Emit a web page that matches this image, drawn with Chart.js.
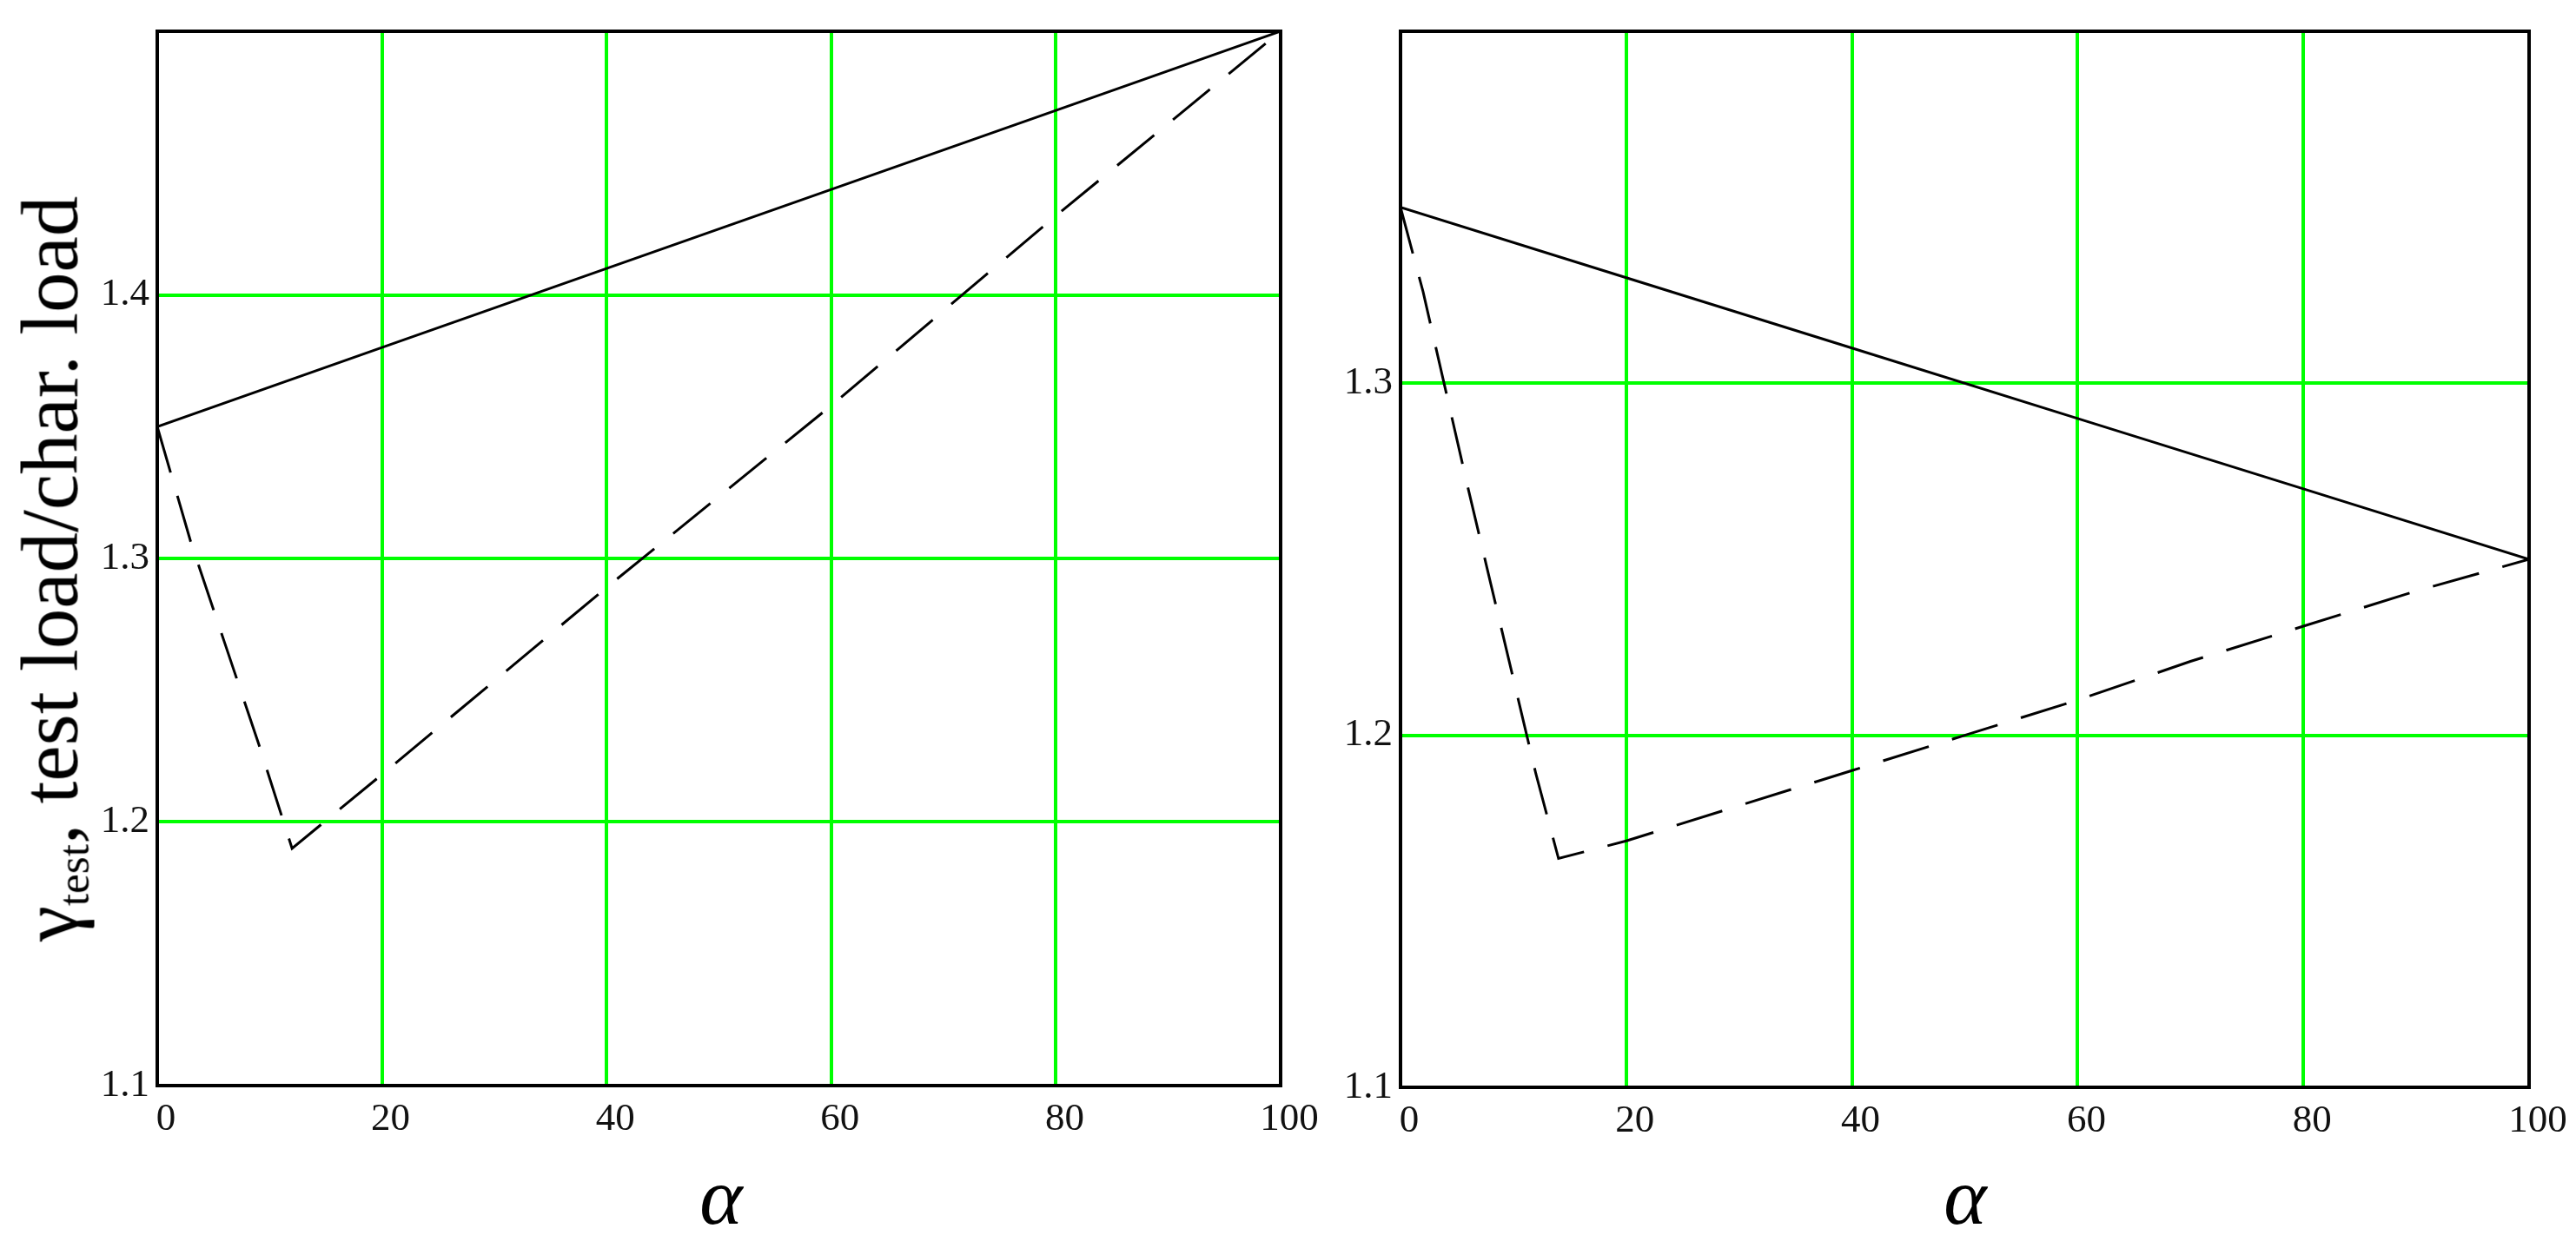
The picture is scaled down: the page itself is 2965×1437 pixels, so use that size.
<!DOCTYPE html>
<html>
<head>
<meta charset="utf-8">
<script src="https://cdn.jsdelivr.net/npm/chart.js@4.4.1/dist/chart.umd.min.js"></script>
<style>
  html, body { margin: 0; padding: 0; background: #fff; }
  body { width: 2965px; height: 1437px; position: relative; overflow: hidden; }
  canvas { position: absolute; top: 0; }
  #c1 { left: 0; }
  #c2 { left: 1480px; }
  .xt { position: absolute; top: 1330px; font: italic 94px "Liberation Serif", serif; transform: translateX(-50%); line-height: 1; }
  .yt { position: absolute; left: 60px; top: 655px; font: 93px "Liberation Serif", serif; white-space: nowrap; line-height: 1;
        transform: translate(-50%, -50%) rotate(-90deg); }
  .yt sub { font-size: 55%; vertical-align: -0.25em; }
</style>
</head>
<body>
<canvas id="c1" width="1560" height="1437"></canvas>
<canvas id="c2" width="1485" height="1437"></canvas>
<div class="xt" style="left: 830px;">α</div>
<div class="xt" style="left: 2262px;">α</div>
<div class="yt">γ<sub>test</sub>, test load/char. load</div>
<script>
// left panel
const leftSolidAlpha = [0, 20, 40, 60, 80, 100];
const leftSolidGamma = [1.35, 1.38, 1.41, 1.44, 1.47, 1.50];
const leftDashedAlpha = [0, 3, 6, 9, 12, 20, 40, 60, 80, 100];
const leftDashedGamma = [1.35, 1.306, 1.268, 1.230, 1.190, 1.218, 1.289, 1.358, 1.430, 1.50];

// right panel
const rightSolidAlpha = [0, 20, 40, 60, 80, 100];
const rightSolidGamma = [1.35, 1.33, 1.31, 1.29, 1.27, 1.25];
const rightDashedAlpha = [0, 2, 4, 6, 8, 10, 12, 14, 20, 30, 40, 50, 60, 70, 80, 90, 100];
const rightDashedGamma = [1.35, 1.326, 1.298, 1.270, 1.243, 1.216, 1.189, 1.165, 1.170, 1.180,
                          1.190, 1.200, 1.210, 1.221, 1.231, 1.241, 1.25];

const xTicks = [0, 20, 40, 60, 80, 100];
const leftRange = [1.1, 1.5];
const rightRange = [1.1, 1.4];

function pts(xs, ys) {
  return xs.map((x, i) => ({ x: x, y: ys[i] }));
}

// black frame around the plot area
const frame = {
  id: 'frame',
  afterDraw(chart) {
    const a = chart.chartArea, c = chart.ctx;
    c.save();
    c.strokeStyle = '#000';
    c.lineWidth = 4;
    c.strokeRect(a.left, a.top, a.right - a.left, a.bottom - a.top);
    c.restore();
  }
};

function makeChart(id, solid, dashed, range, yWidth, xHeight, padRight) {
  const tickFont = { family: '"Liberation Serif", serif', size: 45 };
  return new Chart(document.getElementById(id), {
    type: 'line',
    data: {
      datasets: [
        { data: solid, borderColor: '#000', borderWidth: 3, pointRadius: 0, tension: 0 },
        { data: dashed, borderColor: '#000', borderWidth: 3, pointRadius: 0, tension: 0, borderDash: [55, 28] }
      ]
    },
    options: {
      responsive: false,
      animation: false,
      events: [],
      layout: { padding: { top: 32, right: padRight, left: 0, bottom: 0 } },
      plugins: { legend: { display: false }, tooltip: { enabled: false } },
      scales: {
        x: {
          type: 'linear', min: 0, max: 100,
          afterBuildTicks: s => { s.ticks = xTicks.map(v => ({ value: v })); },
          afterFit: s => { s.height = xHeight; },
          grid: { color: '#00ff00', lineWidth: 4, drawTicks: false },
          border: { display: false },
          ticks: { font: tickFont, color: '#111', padding: 12, labelOffset: 10, maxRotation: 0, autoSkip: false }
        },
        y: {
          type: 'linear', min: range[0], max: range[1],
          afterFit: s => { s.width = yWidth; },
          grid: { color: '#00ff00', lineWidth: 4, drawTicks: false },
          border: { display: false },
          ticks: {
            stepSize: 0.1, font: tickFont, color: '#111', padding: 9,
            callback: v => (v > range[1] - 1e-6 ? '' : v.toFixed(1))
          }
        }
      }
    },
    plugins: [frame]
  });
}

makeChart('c1', pts(leftSolidAlpha, leftSolidGamma), pts(leftDashedAlpha, leftDashedGamma),
          leftRange, 181, 187, 1560 - 1474);
makeChart('c2', pts(rightSolidAlpha, rightSolidGamma), pts(rightDashedAlpha, rightDashedGamma),
          rightRange, 132, 185, 1485 - (2911 - 1480));
</script>
</body>
</html>
